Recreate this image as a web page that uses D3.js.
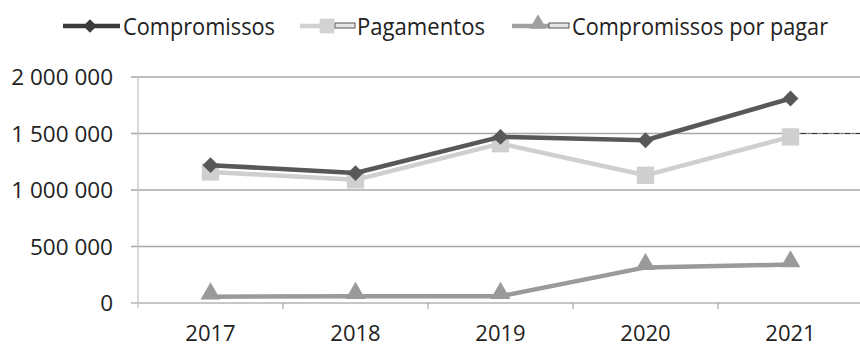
<!DOCTYPE html>
<html><head><meta charset="utf-8">
<script src="https://cdn.jsdelivr.net/npm/d3@7"></script>
<style>body{margin:0;background:#fff}svg{display:block}</style>
</head><body>
<svg id="c" width="860" height="347"></svg>
<script>
const years = ["2017","2018","2019","2020","2021"];
const compromissos = [1220000, 1150000, 1470000, 1440000, 1810000];
const pagamentos = [1160000, 1090000, 1410000, 1130000, 1470000];
const porPagar = [55000, 60000, 60000, 315000, 340000];
const yTicks = [0, 500000, 1000000, 1500000, 2000000];
const seriesNames = ["Compromissos", "Pagamentos", "Compromissos por pagar"];

const svg = d3.select("#c");
const font = "'Open Sans', sans-serif";
const x = d3.scaleBand().domain(years).range([138, 863]);
const y = d3.scaleLinear().domain([0, 2000000]).range([303, 77]);
const fmt = v => d3.format(",")(v).replace(/,/g, " ");

// gridlines
svg.append("g").selectAll("line").data(yTicks).join("line")
  .attr("x1", 131).attr("x2", 860)
  .attr("y1", d => y(d)).attr("y2", d => y(d))
  .attr("stroke", d => d === 0 ? "#b5b5b5" : "#a8a8a8").attr("stroke-width", 1.3);
// y axis line
svg.append("line").attr("x1", 138).attr("x2", 138).attr("y1", 77).attr("y2", 308)
  .attr("stroke", "#c4c4c4").attr("stroke-width", 1.3);
// x ticks at band boundaries
svg.append("g").selectAll("line").data(years.slice(1)).join("line")
  .attr("x1", d => x(d)).attr("x2", d => x(d)).attr("y1", 303).attr("y2", 309)
  .attr("stroke", "#999").attr("stroke-width", 1);

// y labels
svg.append("g").selectAll("text").data(yTicks).join("text")
  .attr("x", 113).attr("y", d => y(d) + 8).attr("text-anchor", "end")
  .attr("font-family", font).attr("font-size", 22.5).attr("fill", "#222")
  .text(fmt);
// x labels
svg.append("g").selectAll("text").data(years).join("text")
  .attr("x", d => x(d) + x.bandwidth() / 2).attr("y", 341).attr("text-anchor", "middle")
  .attr("font-family", font).attr("font-size", 22).attr("fill", "#222")
  .text(d => d);

const cx = d => x(d) + x.bandwidth() / 2;
const series = [
  {name: seriesNames[2], vals: porPagar, color: "#9a9a9a", marker: "tri"},
  {name: seriesNames[1], vals: pagamentos, color: "#cfcfcf", marker: "sq"},
  {name: seriesNames[0], vals: compromissos, color: "#585858", marker: "dia"}
];
const markerPath = (type) => {
  if (type === "dia") return d3.symbol(d3.symbolDiamond2, 160)();
  if (type === "sq") return d3.symbol(d3.symbolSquare, 300)();
  return d3.symbol(d3.symbolTriangle, 170)();
};
series.forEach(s => {
  const line = d3.line().x((d, i) => cx(years[i])).y(d => y(d));
  svg.append("path").attr("d", line(s.vals)).attr("fill", "none")
    .attr("stroke", s.color).attr("stroke-width", 4.5).attr("stroke-linejoin", "round");
  svg.append("g").selectAll("path").data(s.vals).join("path")
    .attr("d", markerPath(s.marker))
    .attr("transform", (d, i) => `translate(${cx(years[i])},${y(d) - (s.marker === "tri" ? 3 : 0)})`)
    .attr("fill", s.color);
});
// thin dark trace along the 1 500 000 gridline to the right of the last point
svg.append("line").attr("x1", cx(years[4]) + 10).attr("x2", 860)
  .attr("y1", y(yTicks[3])).attr("y2", y(yTicks[3]))
  .attr("stroke", "#333").attr("stroke-width", 1).attr("stroke-dasharray", "6 2 1 2");

// legend
const legend = [
  {name: seriesNames[0], color: "#3a3a3a", marker: "dia", x1: 63, x2: 120, mx: 90, eq: null, tx: 123, tw: 152},
  {name: seriesNames[1], color: "#d2d2d2", marker: "sq", x1: 300, x2: 336, mx: 327, eq: 335, tx: 357, tw: 128},
  {name: seriesNames[2], color: "#a0a0a0", marker: "tri", x1: 512, x2: 550, mx: 538, eq: 549, tx: 572, tw: 256}
];
const lg = svg.append("g");
legend.forEach(l => {
  lg.append("line").attr("x1", l.x1).attr("x2", l.x2).attr("y1", 26).attr("y2", 26)
    .attr("stroke", l.color).attr("stroke-width", 4.5);
  if (l.eq !== null) {
    lg.append("rect").attr("x", l.eq).attr("y", 23).attr("width", 20).attr("height", 5)
      .attr("fill", "#e6e6e6").attr("stroke", "#555").attr("stroke-width", 1);
  }
  lg.append("path").attr("d", markerPath(l.marker))
    .attr("transform", `translate(${l.mx},${26 - (l.marker === "tri" ? 2 : 0)}) scale(0.85)`)
    .attr("fill", l.color);
  lg.append("text").attr("x", l.tx).attr("y", 35)
    .attr("font-family", font).attr("font-size", 23.5).attr("fill", "#222")
    .attr("textLength", l.tw).attr("lengthAdjust", "spacingAndGlyphs")
    .text(l.name);
});
</script>
</body></html>
